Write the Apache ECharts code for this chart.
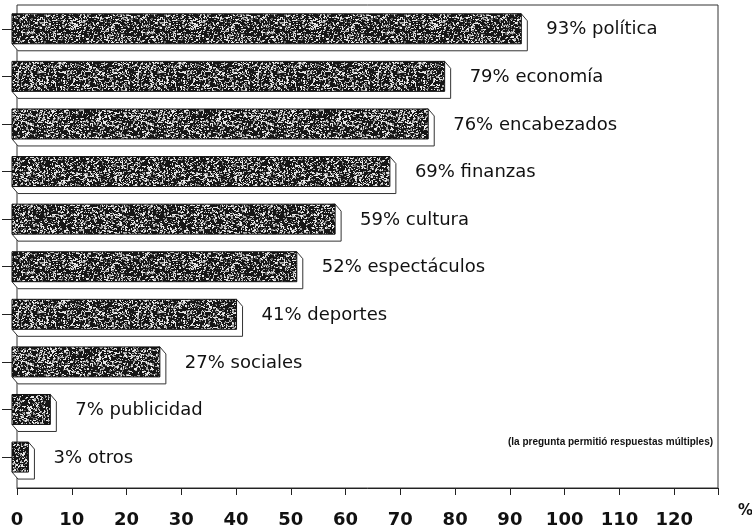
<!DOCTYPE html>
<html>
<head>
<meta charset="utf-8">
<script src="https://cdn.jsdelivr.net/npm/echarts@6/dist/echarts.min.js"></script>
<style>html,body{margin:0;padding:0;background:#fff;}#c{width:752px;height:529px;}</style>
</head>
<body>
<div id="c"></div>
<script>
const categories = ['política','economía','encabezados','finanzas','cultura','espectáculos','deportes','sociales','publicidad','otros'];
const values = [93,79,76,69,59,52,41,27,7,3];
const xMin = 0, xMax = 128, xStep = 10;
const note = '(la pregunta permitió respuestas múltiples)';
const unitLabel = '%';

// speckled print-like texture (styling only)
function makeTexture(){
  const c = document.createElement('canvas');
  c.width = c.height = 120;
  const g = c.getContext('2d');
  g.fillStyle = '#161616'; g.fillRect(0,0,120,120);
  let s = 987654;
  const r = () => { s = (s * 1103515245 + 12345) & 0x7fffffff; return s / 0x7fffffff; };
  for (let i = 0; i < 4600; i++) {
    const x = Math.floor(r()*120), y = Math.floor(r()*120);
    const t = r();
    g.fillStyle = t < 0.45 ? '#e8e8e8' : (t < 0.8 ? '#a8a8a8' : '#686868');
    g.fillRect(x, y, r() < 0.3 ? 2 : 1, r() < 0.2 ? 2 : 1);
  }
  return c;
}
const tex = makeTexture();

const chart = echarts.init(document.getElementById('c'));
const data = categories.map((c, i) => [values[i], i + 0.5]);
const yMax = 10.15;

chart.setOption({
  animation: false,
  backgroundColor: '#fff',
  title: {
    text: note, left: 508, top: 437, padding: 0,
    textStyle: {fontFamily: 'Liberation Sans, Arial', fontSize: 10, fontWeight: 'bold', color: '#111'}
  },
  grid: {left: 17, right: 34, top: 5, bottom: 41, outerBoundsMode: 'none', containLabel: false,
    show: true, borderColor: '#333', borderWidth: 1, backgroundColor: 'transparent'},
  xAxis: {
    type: 'value', min: xMin, max: xMax, interval: xStep, position: 'bottom',
    name: unitLabel, nameLocation: 'end', nameGap: 20,
    nameTextStyle: {fontFamily: 'DejaVu Sans', fontSize: 15, fontWeight: 'bold', color: '#111', verticalAlign: 'top', lineHeight: 46},
    axisLine: {show: true, onZero: false, lineStyle: {color: '#222', width: 1}},
    axisTick: {show: true, length: 7, lineStyle: {color: '#222'}},
    axisLabel: {margin: 23, color: '#111', fontFamily: 'DejaVu Sans', fontSize: 18, fontWeight: 'bold',
      formatter: v => (v % xStep === 0 ? String(v) : '')},
    splitLine: {show: false}
  },
  yAxis: {
    type: 'value', min: 0, max: yMax, inverse: true, position: 'left', offset: 3,
    axisLine: {show: false, onZero: false},
    axisTick: {show: true, length: 12, lineStyle: {color: '#222'}, customValues: data.map(d => d[1])},
    axisLabel: {show: false}, splitLine: {show: false}
  },
  series: [{
    type: 'custom',
    data: data,
    renderItem: function(params, api){
      const v = api.value(0), yv = api.value(1);
      const idx = params.dataIndex;
      const pe = api.coord([v, yv]);
      const p0 = api.coord([0, yv]);
      const band = api.size([0, 1])[1];
      const hh = band * 0.315;
      const sh = 5, dx = 6, dy = 7;
      const x0 = p0[0] - sh, x1 = pe[0] - sh, yt = pe[1] - hh, yb = pe[1] + hh;
      return {
        type: 'group',
        children: [{
          type: 'polygon',
          shape: {points: [[x0, yb], [x0 + dx, yb + dy], [x1 + dx, yb + dy], [x1 + dx, yt + dy], [x1, yt]]},
          style: {fill: '#fff', stroke: '#333', lineWidth: 1}
        }, {
          type: 'rect',
          shape: {x: x0, y: yt, width: x1 - x0, height: yb - yt},
          style: {fill: {image: tex, repeat: 'repeat'}, stroke: '#111', lineWidth: 1}
        }, {
          type: 'text',
          x: pe[0] + 20, y: pe[1] + 1,
          style: {text: values[idx] + '% ' + categories[idx], fill: '#111',
            fontFamily: 'DejaVu Sans', fontSize: 18, align: 'left', verticalAlign: 'middle'}
        }]
      };
    }
  }]
});
</script>
</body>
</html>
